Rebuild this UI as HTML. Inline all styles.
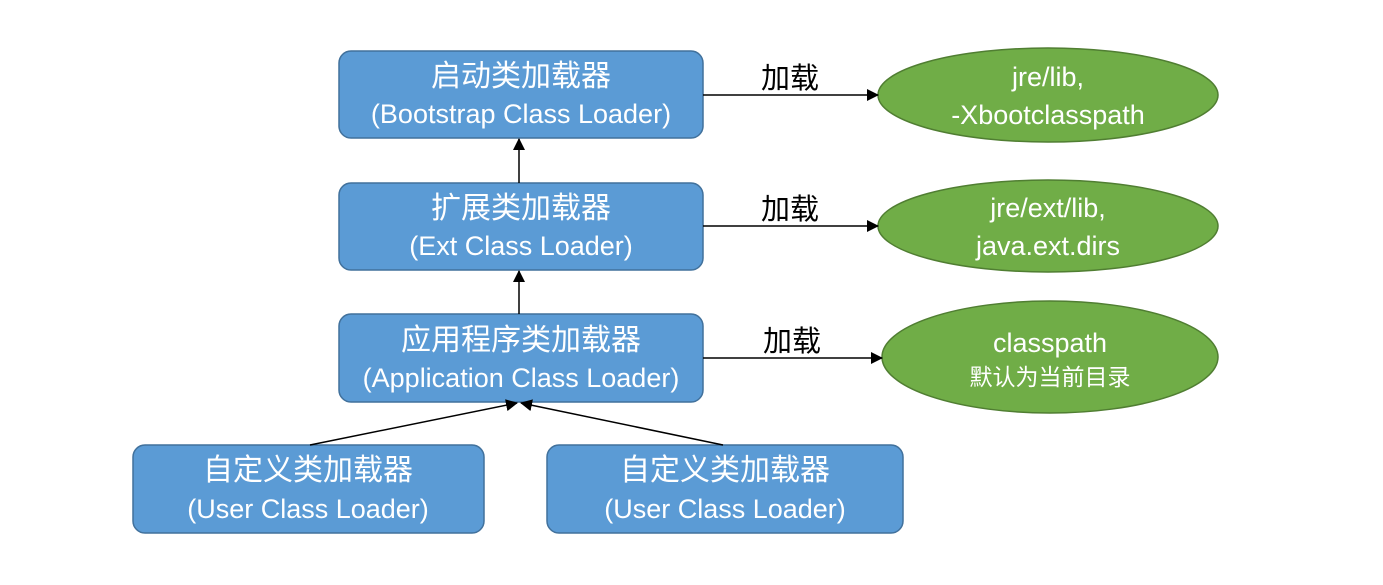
<!DOCTYPE html>
<html><head><meta charset="utf-8"><style>
body{margin:0;background:#fff;width:1383px;height:580px;overflow:hidden}
text{font-family:"Liberation Sans","Noto Sans CJK SC",sans-serif}
.c{font-family:"Noto Sans CJK SC",sans-serif}
</style></head><body>
<svg width="1383" height="580" viewBox="0 0 1383 580">
<defs><marker id="a" markerWidth="12" markerHeight="12" refX="11" refY="6" orient="auto" markerUnits="userSpaceOnUse"><path d="M0,0 L12,6 L0,12 z" fill="#000"/></marker></defs>
<g fill="#5b9bd5" stroke="#41719c" stroke-width="1.5">
<rect x="339" y="51" width="364" height="87" rx="12"/>
<rect x="339" y="183" width="364" height="87" rx="12"/>
<rect x="339" y="314" width="364" height="88" rx="12"/>
<rect x="133" y="445" width="351" height="88" rx="12"/>
<rect x="547" y="445" width="356" height="88" rx="12"/>
</g>
<g fill="#70ad47" stroke="#507e32" stroke-width="1.5">
<ellipse cx="1048" cy="95" rx="170" ry="47"/>
<ellipse cx="1048" cy="226" rx="170" ry="46"/>
<ellipse cx="1050" cy="357" rx="168" ry="56"/>
</g>
<g stroke="#000" stroke-width="1.5" fill="none" marker-end="url(#a)">
<line x1="703" y1="95" x2="878" y2="95"/>
<line x1="703" y1="226" x2="878" y2="226"/>
<line x1="703" y1="358" x2="882" y2="358"/>
<line x1="519" y1="183" x2="519" y2="139"/>
<line x1="519" y1="314" x2="519" y2="271"/>
<line x1="310" y1="445" x2="517" y2="403"/>
<line x1="723" y1="445" x2="521" y2="403"/>
</g>
<g font-size="29" fill="#000" text-anchor="middle" class="c">
<text x="790" y="88" class="c">加载</text>
<text x="790" y="219" class="c">加载</text>
<text x="792" y="351" class="c">加载</text>
</g>
<g font-size="30" fill="#fff" text-anchor="middle">
<text x="521" y="86" class="c">启动类加载器</text>
<text x="521" y="218" class="c">扩展类加载器</text>
<text x="521" y="350" class="c">应用程序类加载器</text>
<text x="308" y="480" class="c">自定义类加载器</text>
<text x="725" y="480" class="c">自定义类加载器</text>
</g>
<g font-size="27" fill="#fff" text-anchor="middle">
<text x="521" y="123">(Bootstrap Class Loader)</text>
<text x="521" y="255">(Ext Class Loader)</text>
<text x="521" y="387">(Application Class Loader)</text>
<text x="308" y="518">(User Class Loader)</text>
<text x="725" y="518">(User Class Loader)</text>
<text x="1048" y="86">jre/lib,</text>
<text x="1048" y="124">-Xbootclasspath</text>
<text x="1048" y="217">jre/ext/lib,</text>
<text x="1048" y="255">java.ext.dirs</text>
<text x="1050" y="352">classpath</text>
</g>
<text x="1050" y="385" font-size="23" fill="#fff" text-anchor="middle" class="c">默认为当前目录</text>
</svg>
</body></html>
